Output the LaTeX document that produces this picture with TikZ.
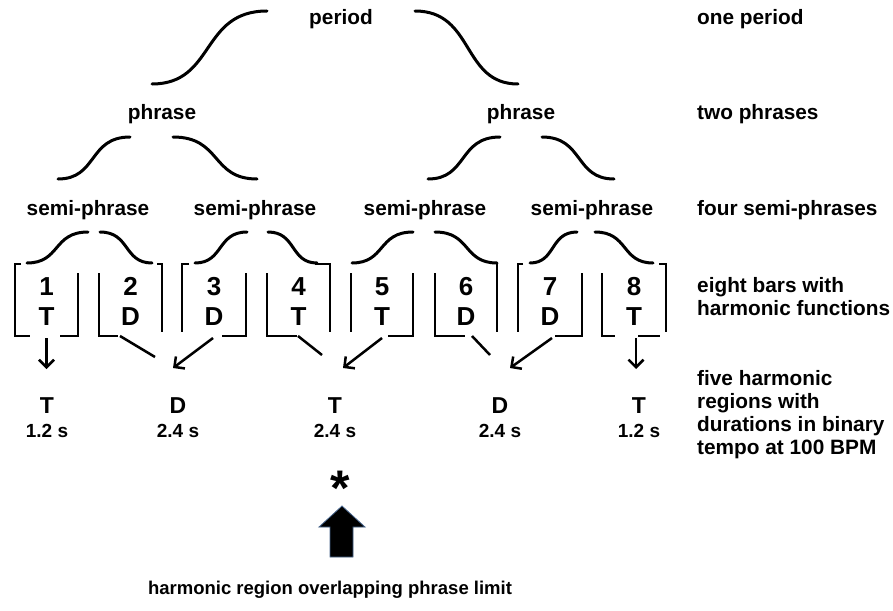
\documentclass[tikz,border=0pt]{standalone}
\usepackage{fontspec}
\setmainfont{Liberation Sans}
\usetikzlibrary{arrows.meta}
\tikzset{
  lbl/.style={font=\fontsize{20.8}{24}\selectfont\bfseries, inner sep=0pt, anchor=base},
  rlbl/.style={lbl, anchor=base west},
  digit/.style={font=\fontsize{26}{30}\selectfont\bfseries, inner sep=0pt, anchor=base},
  region/.style={font=\fontsize{23}{26}\selectfont\bfseries, inner sep=0pt, anchor=base},
  dur/.style={font=\fontsize{19}{22}\selectfont\bfseries, inner sep=0pt, anchor=base},
  brace/.style={line width=3pt, line cap=round},
  barline/.style={line width=1.8pt},
  arr/.style={line width=2.5pt, -{Straight Barb[length=7.5pt,width=15pt]}},
  link/.style={line width=2.5pt},
  blockarrow/.style={fill=black, draw={rgb,255:red,70;green,100;blue,140}, line width=0.8pt}
}
% S-shaped half brace from (#1,#2) to (#3,#4)
\newcommand{\halfbrace}[4]{%
  \draw[brace] (#1,#2) .. controls ({#1+0.55*(#3-#1)},#2) and ({#1+0.42*(#3-#1)},#4) .. (#3,#4);}
\begin{document}
\begin{tikzpicture}[x=1pt,y=-1pt]
\useasboundingbox (0,0) rectangle (893,610);

% ---- hierarchy labels
\node[lbl] (period) at (341,25) {period};
\node[lbl] (phraseA) at (162,119) {phrase};
\node[lbl] (phraseB) at (521,119) {phrase};
\node[lbl] (semiA) at (88,215) {semi-phrase};
\node[lbl] (semiB) at (255,215) {semi-phrase};
\node[lbl] (semiC) at (425,215) {semi-phrase};
\node[lbl] (semiD) at (592,215) {semi-phrase};

% ---- braces
\halfbrace{152}{84}{267}{11}
\halfbrace{518}{84}{415}{11}
\halfbrace{58}{179}{130}{137}
\halfbrace{257}{179}{173}{137}
\halfbrace{428}{179}{500}{137}
\halfbrace{614}{179}{542}{137}
\halfbrace{27}{263}{88}{232}
\halfbrace{152}{263}{100}{232}
\halfbrace{195}{263}{247}{232}
\halfbrace{317}{263}{268}{232}
\halfbrace{352}{263}{413}{232}
\halfbrace{497}{263}{435}{232}
\halfbrace{530}{263}{577}{232}
\halfbrace{653}{263}{595}{232}

% ---- bar brackets
% box 1
\draw[barline] (21,264) -- (15,264) -- (15,336) -- (30,336);
\draw[barline] (60,336) -- (78,336) -- (78,273);
% box 2
\draw[barline] (99,273) -- (99,336) -- (118,336);
\draw[barline] (157,264) -- (162,264) -- (162,332);
% box 3
\draw[barline] (189,264) -- (182,264) -- (182,332);
\draw[barline] (222,336) -- (246,336) -- (246,273);
% box 4
\draw[barline] (267,273) -- (267,336) -- (297,336);
\draw[barline] (315,264) -- (330,264) -- (330,332);
% box 5
\draw[barline] (351,273) -- (351,332);
\draw[barline] (388,336) -- (413,336) -- (413,273);
% box 6
\draw[barline] (435,273) -- (435,336) -- (465,336);
\draw[barline] (497,264) -- (497,332);
% box 7
\draw[barline] (523,264) -- (518,264) -- (518,332);
\draw[barline] (555,336) -- (582,336) -- (582,273);
% box 8
\draw[barline] (602,273) -- (602,336) -- (615,336);
\draw[barline] (638,336) -- (660,336);
\draw[barline] (659,264) -- (666,264) -- (666,332);

% ---- bar contents
\node[digit] (n1) at (46.5,295) {1};   \node[digit] (f1) at (46.5,325) {T};
\node[digit] (n2) at (130.5,295) {2};  \node[digit] (f2) at (130.5,325) {D};
\node[digit] (n3) at (214,295) {3};    \node[digit] (f3) at (214,325) {D};
\node[digit] (n4) at (298.5,295) {4};  \node[digit] (f4) at (298.5,325) {T};
\node[digit] (n5) at (382,295) {5};    \node[digit] (f5) at (382,325) {T};
\node[digit] (n6) at (466,295) {6};    \node[digit] (f6) at (466,325) {D};
\node[digit] (n7) at (550,295) {7};    \node[digit] (f7) at (550,325) {D};
\node[digit] (n8) at (634,295) {8};    \node[digit] (f8) at (634,325) {T};

% ---- connector end points
\coordinate (s1) at (46.5,338); \coordinate (e1) at (46.5,369);
\coordinate (s2) at (120,336);  \coordinate (e2) at (155,357);
\coordinate (s3) at (213,338);  \coordinate (e3) at (173,368);
\coordinate (s4) at (298,336);  \coordinate (e4) at (322,355);
\coordinate (s5) at (382,338);  \coordinate (e5) at (343,368);
\coordinate (s6) at (472,336);  \coordinate (e6) at (490,355);
\coordinate (s7) at (552,338);  \coordinate (e7) at (510,368);
\coordinate (s8) at (636,338);  \coordinate (e8) at (636,369);

\draw[arr] (s1) -- (e1);
\draw[link] (s2) -- (e2);
\draw[arr] (s3) -- (e3);
\draw[link] (s4) -- (e4);
\draw[arr] (s5) -- (e5);
\draw[link] (s6) -- (e6);
\draw[arr] (s7) -- (e7);
\draw[arr] (s8) -- (e8);

% ---- harmonic regions
\node[region] (r1) at (47,413) {T};   \node[dur] (d1) at (47,437) {1.2 s};
\node[region] (r2) at (178,413) {D};  \node[dur] (d2) at (178,437) {2.4 s};
\node[region] (r3) at (335,413) {T};  \node[dur] (d3) at (335,437) {2.4 s};
\node[region] (r4) at (500,413) {D};  \node[dur] (d4) at (500,437) {2.4 s};
\node[region] (r5) at (639,413) {T};  \node[dur] (d5) at (639,437) {1.2 s};

% ---- overlap marker
\node[inner sep=0pt, anchor=north, font=\fontsize{50}{54}\selectfont\bfseries] (star) at (340,471) {*};
\draw[blockarrow] (342,506) -- (365,527) -- (353,527) -- (353,557) -- (330,557) -- (330,527) -- (319,527) -- cycle;
\node[lbl, font=\fontsize{18.5}{22}\selectfont\bfseries] (note) at (330,594) {harmonic region overlapping phrase limit};

% ---- right column
\node[rlbl] (c1) at (697,25) {one period};
\node[rlbl] (c2) at (697,119) {two phrases};
\node[rlbl] (c3) at (697,215) {four semi-phrases};
\node[rlbl] (c4a) at (697,292) {eight bars with};
\node[rlbl] (c4b) at (697,315) {harmonic functions};
\node[rlbl] (c5a) at (697,385) {five harmonic};
\node[rlbl] (c5b) at (697,408) {regions with};
\node[rlbl] (c5c) at (697,431) {durations in binary};
\node[rlbl] (c5d) at (697,454) {tempo at 100 BPM};
\end{tikzpicture}
\end{document}
